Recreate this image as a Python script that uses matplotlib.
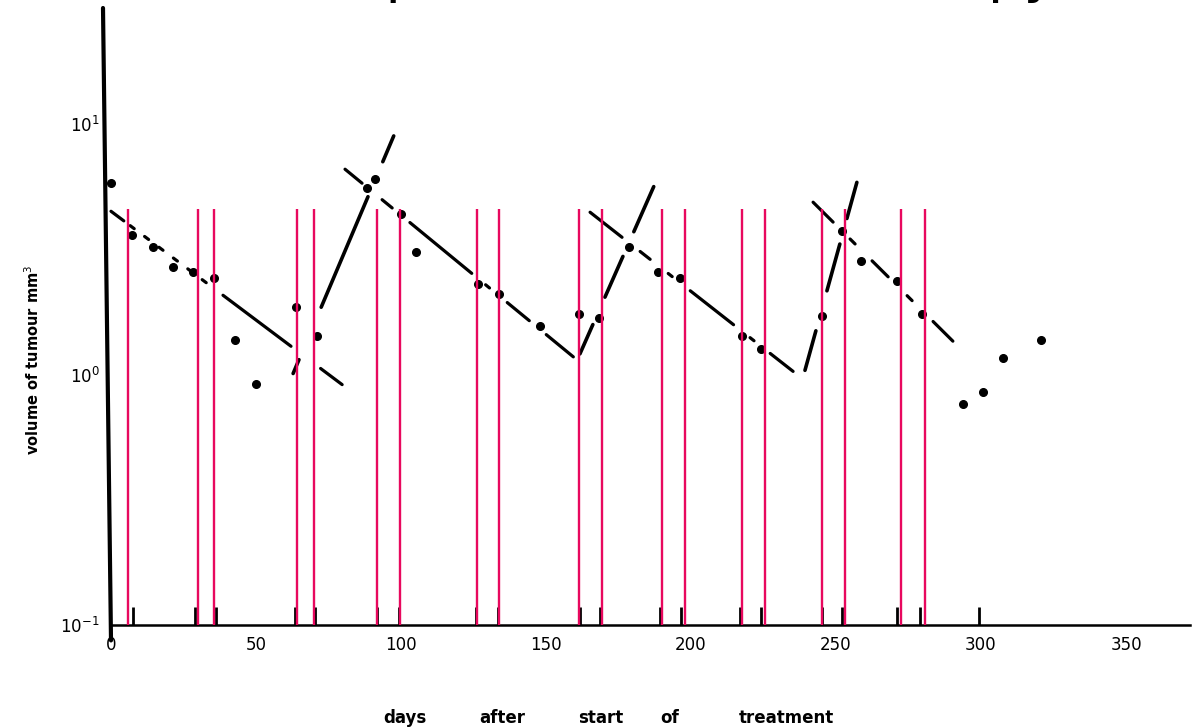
import matplotlib
matplotlib.use("Agg")
import matplotlib.pyplot as plt
from matplotlib.ticker import NullLocator

plt.rcParams['lines.scale_dashes'] = False
plt.rcParams['font.family'] = ['DejaVu Sans']

# Measured tumour volumes (mm^3) against days after start of treatment
obs_days = [0, 7.2, 14.5, 21.4, 28.3, 35.5, 42.8, 50.0, 63.8, 71.0, 91.0, 88.3,
            100.0, 105.2, 126.6, 133.8, 147.9, 161.4, 168.3, 178.6, 188.6, 196.2,
            217.6, 224.1, 245.2, 252.1, 258.6, 271.0, 279.7, 293.8, 300.7, 307.6, 320.7]
obs_volume = [5.81, 3.60, 3.22, 2.70, 2.56, 2.42, 1.38, 0.92, 1.87, 1.43, 6.03, 5.55,
              4.37, 3.08, 2.29, 2.09, 1.57, 1.75, 1.69, 3.22, 2.56, 2.42,
              1.43, 1.27, 1.72, 3.73, 2.83, 2.36, 1.75, 0.76, 0.85, 1.17, 1.37]

# Regression (shrinkage) trend lines during treatment
decay_day0 = [0, 80.7, 165.2, 242.1]
decay_vol0 = [4.49, 6.61, 4.45, 4.88]
decay_day1 = [79.7, 159.7, 235.2, 290.3]
decay_vol1 = [0.912, 1.17, 1.03, 1.36]

# Regrowth trend lines between courses
regrow_day0 = [62.8, 161.7, 239.3]
regrow_vol0 = [1.01, 1.21, 1.04]
regrow_day1 = [97.6, 187.2, 257.2]
regrow_vol1 = [9.04, 5.65, 5.86]

# Days on which a dose was given (short marks on the time axis)
dose_days = [7.6, 29.0, 36.2, 63.4, 70.3, 91.7, 99.3, 125.9, 133.4, 161.7, 168.6,
             189.3, 196.6, 216.9, 224.1, 245.2, 252.1, 271.0, 279.0, 299.3]
# Highlighted treatment days
highlight_days = [5.9, 29.9, 35.5, 64.1, 69.9, 91.7, 99.6, 126.1, 133.9, 161.3, 169.4,
                  190.1, 198.1, 217.6, 225.5, 245.0, 253.1, 272.4, 280.6]

x_ticks = [0, 50, 100, 150, 200, 250, 300, 350]
y_ticks = [0.1, 1, 10]
y_ticklabels = ['$10^{-1}$', '$10^{0}$', '$10^{1}$']

DPI = 100
fig = plt.figure(figsize=(11.95, 7.27), dpi=DPI)
ax = fig.add_axes([111 / 1195, 102 / 727, 1079 / 1195, 617 / 727])
ax.set_yscale('log')
ax.set_xlim(0, 1079 / 2.9)
ax.set_ylim(0.1, 10 ** 1.464)

for s in ('top', 'right', 'left'):
    ax.spines[s].set_visible(False)
ax.spines['bottom'].set_linewidth(1.8)
# hand-ruled vertical axis, leaning slightly to the left
ax.plot([0, -8 / 1079], [-0.025, 1.0], transform=ax.transAxes, color='k',
        lw=3.0, clip_on=False, solid_capstyle='round')

ax.set_xticks(x_ticks)
ax.set_xticklabels([str(t) for t in x_ticks], fontsize=12)
ax.set_yticks(y_ticks)
ax.set_yticklabels(y_ticklabels, fontsize=12)
ax.yaxis.set_minor_locator(NullLocator())
ax.tick_params(axis='x', length=0, pad=8)
ax.tick_params(axis='y', length=0, pad=8)


def px_dash(seq):
    return (0, [v * 72.0 / DPI for v in seq] + [200])


decay_dashes = [
    [16, 8, 5, 13, 5, 13, 5, 13, 5, 13, 5, 13, 5, 21, 85, 37, 30],
    [22, 26, 13, 23, 80, 18, 5, 23, 28.5, 22, 35],
    [40.6, 23, 12.7, 23, 5, 23, 55, 21, 5, 20.6, 29.3],
    [28.2, 24, 7, 24, 22.6, 26.8, 7, 29.6, 28.2],
]
regrow_dashes = [
    [15, 57, 120, 38, 28],
    [32, 30, 44.5, 27, 49.3],
    [41, 41.5, 48.5, 26.5, 37.5],
]

for d0, v0, d1, v1, ds in zip(decay_day0, decay_vol0, decay_day1, decay_vol1, decay_dashes):
    ax.plot([d0, d1], [v0, v1], color='k', lw=2.3, linestyle=px_dash(ds),
            dash_capstyle='round', clip_on=False)
for d0, v0, d1, v1, ds in zip(regrow_day0, regrow_vol0, regrow_day1, regrow_vol1, regrow_dashes):
    ax.plot([d0, d1], [v0, v1], color='k', lw=2.6, linestyle=px_dash(ds),
            dash_capstyle='round', clip_on=False)

ax.plot(obs_days, obs_volume, 'o', color='k', markersize=5.5, clip_on=False, zorder=4)

ax.vlines(dose_days, 0.1, 10 ** (-1 + 18 / 250), color='k', lw=2.0, zorder=3)
ax.vlines(highlight_days, 0.1, 10 ** 0.66, color='#E8085E', lw=1.7, zorder=5)

fig.text(33 / 1195, 1 - 360 / 727, 'volume of tumour mm$^3$', rotation=90,
         ha='center', va='center', fontsize=10.5, fontweight='bold')

xlabel_words = ['days', 'after', 'start', 'of', 'treatment']
xlabel_px = [405, 502, 601, 670, 786]
for w, xp in zip(xlabel_words, xlabel_px):
    fig.text(xp / 1195, 1 - 718 / 727, w, ha='center', va='center',
             fontsize=12, fontweight='bold')

# heading sits above the top edge; only its descenders reach into the figure
fig.text(72 / 1195, 1 + 9 / 727, 'Tumour response to chemotherapy', ha='left',
         va='baseline', fontsize=40.5)

fig.savefig('out.png', dpi=DPI, facecolor='white')
